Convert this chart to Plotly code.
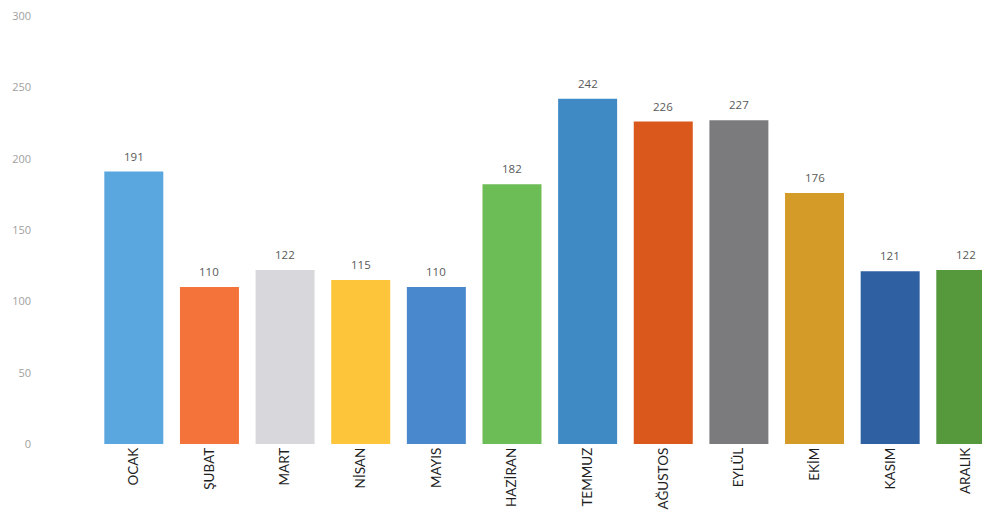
import plotly.graph_objects as go

months = ["OCAK", "ŞUBAT", "MART", "NİSAN", "MAYIS", "HAZİRAN",
          "TEMMUZ", "AĞUSTOS", "EYLÜL", "EKİM", "KASIM", "ARALIK"]
values = [191, 110, 122, 115, 110, 182, 242, 226, 227, 176, 121, 122]
colors = ["#5AA6DE", "#F4733A", "#D8D8DC", "#FDC63A", "#4A88CE", "#6CBD55",
          "#3F8AC4", "#DA581C", "#7B7B7D", "#D49B28", "#2F60A2", "#55993C"]
y_ticks = [0, 50, 100, 150, 200, 250, 300]

fig = go.Figure(go.Bar(
    x=months, y=values,
    marker=dict(color=colors, line=dict(width=0)),
    hoverinfo="x+y",
))

for m, v in zip(months, values):
    fig.add_annotation(x=m, y=v, text=str(v), showarrow=False,
                       yanchor="bottom", yshift=6,
                       font=dict(family="Open Sans", size=11.5, color="#595959"))

fig.update_layout(
    width=982, height=506,
    margin=dict(l=88, r=0, t=5, b=70),
    paper_bgcolor="white", plot_bgcolor="white",
    bargap=0.22, showlegend=False,
    xaxis=dict(range=[-0.5, 11.32], showgrid=False, zeroline=False, showline=False,
               tickangle=-90, ticks="",
               tickfont=dict(family="Lato", size=13.5, color="#1e1e1e")),
    yaxis=dict(range=[0, 300], tickvals=y_ticks, showgrid=False, zeroline=False,
               showline=False, ticks="", ticklabelstandoff=64,
               ticklabeloverflow="allow",
               tickfont=dict(family="Open Sans", size=11, color="#a0a0a0")),
)

fig.write_html("out.html")
